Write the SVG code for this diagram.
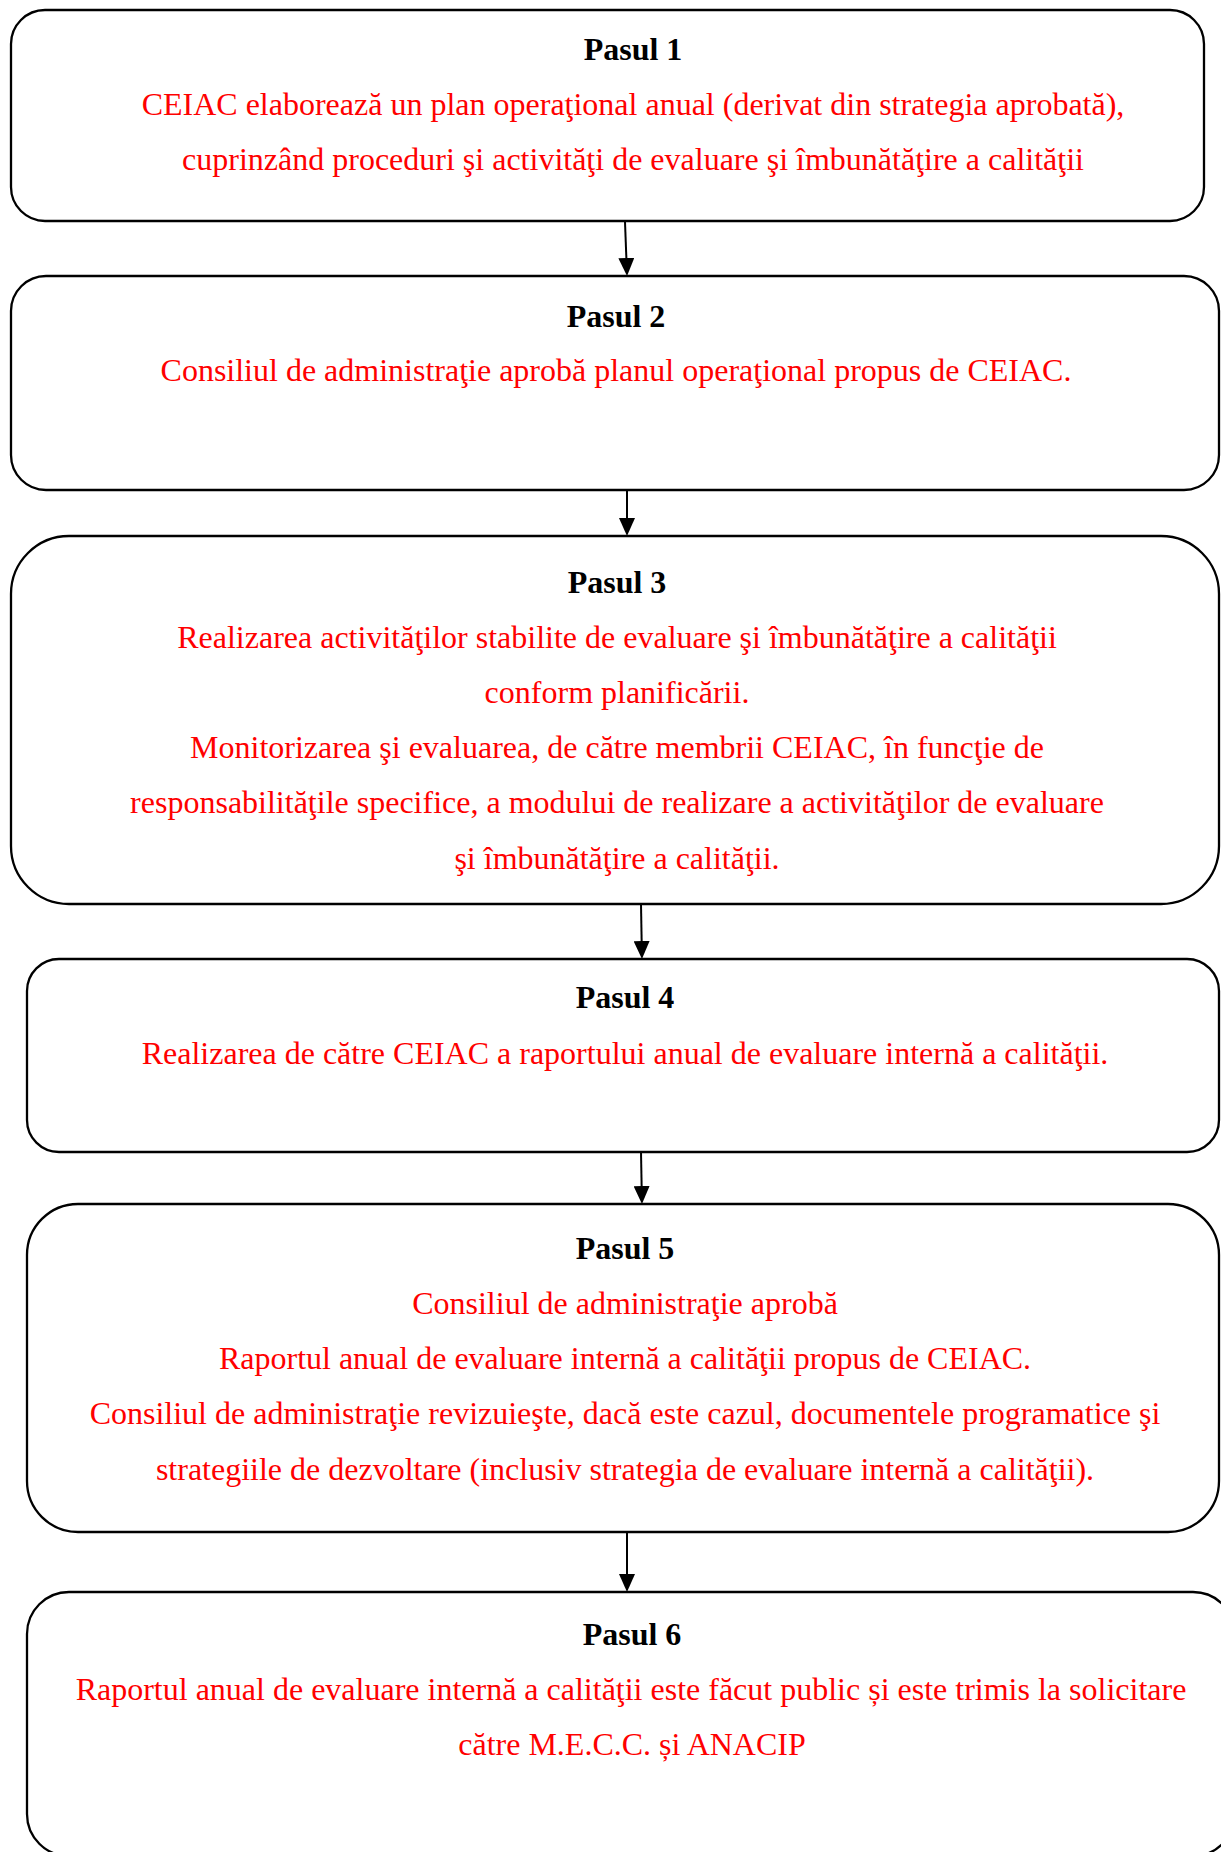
<svg xmlns="http://www.w3.org/2000/svg" width="1221" height="1852" viewBox="0 0 1221 1852">
<style>
.box{fill:#ffffff;stroke:#000000;stroke-width:2.3}
.t{font-family:"Liberation Serif","Times New Roman",serif;font-size:32px;text-anchor:middle}
.h{font-weight:bold;fill:#000000}
.r{fill:#ff0000}
.c{stroke:#000000;stroke-width:2;fill:none}
</style>
<defs>
<marker id="ah" viewBox="0 0 18 16" markerWidth="18" markerHeight="16" refX="9" refY="8" orient="auto" markerUnits="userSpaceOnUse">
<path d="M0,0 L18,8 L0,16 z" fill="#000000"/>
</marker>
</defs>
<rect width="1221" height="1852" fill="#ffffff"/>
<g id="connectors">
<line class="c" x1="625" y1="222" x2="626.7" y2="267" marker-end="url(#ah)"/>
<line class="c" x1="627" y1="490" x2="627" y2="527" marker-end="url(#ah)"/>
<line class="c" x1="641" y1="904" x2="641.8" y2="950" marker-end="url(#ah)"/>
<line class="c" x1="641" y1="1152" x2="641.8" y2="1195" marker-end="url(#ah)"/>
<line class="c" x1="627" y1="1532" x2="627" y2="1583" marker-end="url(#ah)"/>
</g>
<g id="step1">
<rect class="box" x="11" y="10" width="1193" height="211" rx="34" ry="34"/>
<text class="t h" x="633" y="60">Pasul 1</text>
<text class="t r" x="633" y="115">CEIAC elaborează un plan operaţional anual (derivat din strategia aprobată),</text>
<text class="t r" x="633" y="170">cuprinzând proceduri şi activităţi de evaluare şi îmbunătăţire a calităţii</text>
</g>
<g id="step2">
<rect class="box" x="11" y="276" width="1208" height="214" rx="35" ry="35"/>
<text class="t h" x="616" y="327">Pasul 2</text>
<text class="t r" x="616" y="381">Consiliul de administraţie aprobă planul operaţional propus de CEIAC.</text>
</g>
<g id="step3">
<rect class="box" x="11" y="536" width="1208" height="368" rx="58" ry="58"/>
<text class="t h" x="617" y="593">Pasul 3</text>
<text class="t r" x="617" y="648">Realizarea activităţilor stabilite de evaluare şi îmbunătăţire a calităţii</text>
<text class="t r" x="617" y="703">conform planificării.</text>
<text class="t r" x="617" y="758">Monitorizarea şi evaluarea, de către membrii CEIAC, în funcţie de</text>
<text class="t r" x="617" y="813">responsabilităţile specifice, a modului de realizare a activităţilor de evaluare</text>
<text class="t r" x="617" y="869">şi îmbunătăţire a calităţii.</text>
</g>
<g id="step4">
<rect class="box" x="27" y="959" width="1192" height="193" rx="32" ry="32"/>
<text class="t h" x="625" y="1008">Pasul 4</text>
<text class="t r" x="625" y="1064">Realizarea de către CEIAC a raportului anual de evaluare internă a calităţii.</text>
</g>
<g id="step5">
<rect class="box" x="27" y="1204" width="1192" height="328" rx="51" ry="51"/>
<text class="t h" x="625" y="1259">Pasul 5</text>
<text class="t r" x="625" y="1314">Consiliul de administraţie aprobă</text>
<text class="t r" x="625" y="1369">Raportul anual de evaluare internă a calităţii propus de CEIAC.</text>
<text class="t r" x="625" y="1424">Consiliul de administraţie revizuieşte, dacă este cazul, documentele programatice şi</text>
<text class="t r" x="625" y="1480">strategiile de dezvoltare (inclusiv strategia de evaluare internă a calităţii).</text>
</g>
<g id="step6">
<rect class="box" x="27" y="1592" width="1208" height="264" rx="42" ry="42"/>
<text class="t h" x="632" y="1645">Pasul 6</text>
<text class="t r" x="631" y="1700">Raportul anual de evaluare internă a calităţii este făcut public și este trimis la solicitare</text>
<text class="t r" x="632" y="1755">către M.E.C.C. și ANACIP</text>
</g>
</svg>
